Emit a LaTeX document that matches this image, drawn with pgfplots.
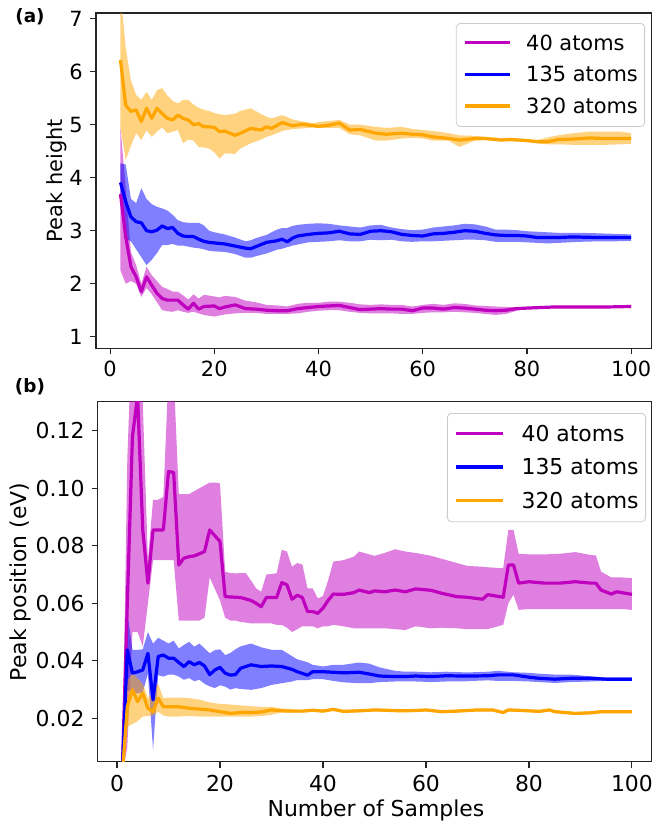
\documentclass[border=0pt]{standalone}
\usepackage{fontspec}
\setmainfont{DejaVu Sans}
\usepackage{pgfplots}
\usepackage{pgfplotstable}
\pgfplotsset{compat=1.18}
\usepgfplotslibrary{fillbetween}

\definecolor{cM}{rgb}{0.75,0,0.75}
\definecolor{cB}{rgb}{0,0,1}
\definecolor{cO}{HTML}{FFA500}

% ---------------- top panel: peak height ----------------
\pgfplotstableread{
x m l u
2 3.69 2.25 4.95
3 2.89 2.00 3.80
4 2.32 2.05 2.60
5 2.13 2.00 2.35
6 1.85 1.75 2.00
7 2.13 1.92 2.32
8 1.97 1.80 2.16
9 1.82 1.65 2.05
10 1.72 1.50 1.94
11 1.69 1.48 1.90
12 1.69 1.47 1.85
13 1.69 1.50 1.85
14 1.60 1.47 1.78
15 1.52 1.45 1.70
16 1.63 1.47 1.80
17 1.52 1.44 1.72
18 1.57 1.41 1.79
20 1.58 1.38 1.76
21 1.53 1.40 1.74
22 1.56 1.42 1.77
24 1.60 1.44 1.75
26 1.53 1.45 1.68
28 1.52 1.45 1.65
30 1.50 1.43 1.60
32 1.49 1.43 1.59
34 1.49 1.43 1.57
36 1.53 1.44 1.62
38 1.55 1.47 1.64
40 1.57 1.49 1.64
42 1.58 1.50 1.66
44 1.59 1.50 1.66
46 1.55 1.47 1.64
48 1.51 1.45 1.61
50 1.52 1.44 1.60
52 1.53 1.44 1.61
54 1.52 1.44 1.60
56 1.52 1.43 1.60
58 1.49 1.43 1.57
60 1.54 1.45 1.60
62 1.54 1.46 1.62
64 1.52 1.46 1.60
66 1.55 1.47 1.63
68 1.54 1.46 1.62
70 1.52 1.45 1.59
72 1.50 1.43 1.58
74 1.49 1.41 1.57
76 1.50 1.43 1.56
78 1.53 1.49 1.56
80 1.54 1.52 1.56
85 1.56 1.54 1.58
90 1.56 1.54 1.58
95 1.56 1.54 1.58
100 1.57 1.55 1.59
}\topM

\pgfplotstableread{
x m l u
2 3.91 3.55 4.27
3 3.55 2.85 4.25
4 3.26 2.80 3.60
5 3.17 2.65 3.52
6 3.15 2.50 3.80
7 3.00 2.35 3.60
8 2.98 2.45 3.50
9 3.01 2.58 3.45
10 3.09 2.73 3.42
11 3.04 2.73 3.38
12 3.06 2.75 3.30
13 2.95 2.72 3.20
14 2.90 2.72 3.16
15 2.89 2.70 3.15
16 2.89 2.68 3.15
17 2.84 2.67 3.15
18 2.80 2.65 3.10
19 2.78 2.62 3.00
20 2.77 2.61 2.97
22 2.75 2.60 2.93
24 2.71 2.56 2.87
26 2.67 2.49 2.80
27 2.66 2.49 2.82
28 2.70 2.52 2.86
30 2.78 2.57 2.92
32 2.81 2.64 3.02
33 2.84 2.66 3.05
34 2.79 2.69 3.05
35 2.86 2.72 3.09
36 2.90 2.74 3.11
38 2.93 2.78 3.13
40 2.95 2.79 3.14
42 2.96 2.80 3.13
44 2.99 2.82 3.10
46 2.94 2.80 3.08
48 2.93 2.80 3.06
50 2.99 2.83 3.10
52 3.00 2.82 3.11
54 2.98 2.83 3.06
56 2.93 2.80 3.03
58 2.91 2.79 3.01
60 2.90 2.80 3.02
62 2.94 2.80 3.06
64 2.95 2.81 3.08
66 2.97 2.82 3.10
68 3.00 2.83 3.13
70 2.99 2.83 3.12
72 2.95 2.82 3.08
74 2.92 2.79 3.02
76 2.91 2.79 3.02
78 2.91 2.79 3.01
80 2.90 2.78 2.99
82 2.87 2.77 2.98
84 2.87 2.76 2.97
86 2.87 2.77 2.96
88 2.88 2.78 2.96
90 2.88 2.79 2.96
94 2.87 2.80 2.95
97 2.87 2.80 2.94
100 2.87 2.81 2.93
}\topB

\pgfplotstableread{
x m l u
2 6.22 4.95 7.50
3 5.37 4.33 6.45
4 5.25 4.60 5.84
5 5.28 4.84 5.56
6 5.06 4.71 5.47
7 5.31 4.90 5.62
8 5.12 4.77 5.47
9 5.31 4.87 5.65
10 5.21 4.95 5.69
11 5.12 4.84 5.55
12 5.09 4.87 5.45
13 5.18 4.90 5.40
14 5.12 4.65 5.47
15 5.09 4.72 5.47
16 5.00 4.70 5.38
17 5.02 4.58 5.32
18 4.96 4.57 5.28
19 4.96 4.55 5.26
20 4.95 4.48 5.22
21 4.87 4.36 5.20
22 4.88 4.46 5.18
24 4.80 4.45 5.21
25 4.84 4.55 5.26
27 4.93 4.65 5.31
29 4.90 4.72 5.20
30 4.96 4.77 5.15
31 4.93 4.80 5.12
33 5.04 4.88 5.18
35 4.98 4.92 5.10
37 5.01 4.93 5.06
39 4.98 4.95 5.03
40 4.97 4.94 5.05
42 4.99 4.94 5.07
44 5.03 4.94 5.09
46 4.90 4.82 5.00
48 4.91 4.80 5.00
51 4.84 4.70 4.96
53 4.82 4.70 4.94
56 4.84 4.74 4.96
58 4.82 4.75 4.92
60 4.81 4.74 4.90
62 4.77 4.70 4.88
65 4.74 4.70 4.84
67 4.71 4.58 4.80
70 4.74 4.70 4.79
72 4.74 4.71 4.77
75 4.71 4.69 4.75
77 4.72 4.69 4.75
80 4.70 4.68 4.73
82 4.68 4.65 4.71
84 4.68 4.63 4.76
86 4.72 4.63 4.80
89 4.73 4.62 4.84
92 4.75 4.62 4.87
95 4.74 4.62 4.87
98 4.74 4.63 4.87
100 4.74 4.64 4.84
}\topO

% ---------------- bottom panel: peak position ----------------
\pgfplotstableread{
x m l u
1 0.000 0.000 0.000
2 0.060 0.010 0.110
3 0.118 0.050 0.160
4 0.132 0.050 0.200
5 0.0855 0.045 0.130
6 0.067 0.060 0.075
7 0.0855 0.075 0.096
8 0.0855 0.075 0.096
9 0.0855 0.075 0.097
10 0.1058 0.075 0.140
11 0.1055 0.075 0.140
12 0.0733 0.054 0.098
13 0.0757 0.054 0.098
14 0.0762 0.054 0.098
15 0.0765 0.054 0.099
16 0.0772 0.054 0.100
17 0.0780 0.055 0.101
18 0.0855 0.069 0.102
19 0.0835 0.065 0.102
20 0.0815 0.061 0.1017
21 0.0623 0.055 0.071
22 0.0622 0.054 0.0705
23 0.0621 0.054 0.0704
24 0.0620 0.0535 0.0705
25 0.0615 0.0533 0.0705
26 0.0610 0.053 0.068
27 0.0600 0.053 0.0652
28 0.0588 0.053 0.064
29 0.0620 0.053 0.070
30 0.0620 0.053 0.0702
31 0.0620 0.0525 0.0704
32 0.0672 0.0525 0.0786
33 0.0664 0.0515 0.078
34 0.0614 0.050 0.0727
35 0.0628 0.051 0.074
36 0.0620 0.052 0.0735
37 0.0571 0.052 0.0652
38 0.0571 0.052 0.0652
39 0.0565 0.0513 0.0617
40 0.0583 0.052 0.0625
41 0.0610 0.052 0.068
42 0.0632 0.0525 0.0745
44 0.0631 0.052 0.075
46 0.0637 0.0513 0.0762
47 0.0646 0.0513 0.078
49 0.0637 0.0513 0.077
50 0.0643 0.0513 0.0765
52 0.0640 0.0513 0.0775
54 0.0646 0.051 0.0788
56 0.0640 0.0507 0.078
58 0.0650 0.052 0.0775
61 0.0645 0.0513 0.0765
63 0.0635 0.0515 0.0755
66 0.0623 0.0513 0.074
68 0.0621 0.051 0.073
71 0.0614 0.051 0.0727
72 0.0630 0.051 0.0725
75 0.0621 0.0525 0.0722
76 0.0733 0.060 0.0855
77 0.0733 0.063 0.0855
78 0.0670 0.0577 0.0772
80 0.0675 0.058 0.077
83 0.0670 0.058 0.077
86 0.0670 0.058 0.0772
89 0.0675 0.058 0.0778
92 0.0670 0.058 0.0768
93 0.0670 0.058 0.0766
94 0.0646 0.058 0.071
96 0.0632 0.058 0.069
97 0.0640 0.058 0.069
98 0.0637 0.058 0.069
100 0.0631 0.0577 0.0687
}\botM

\pgfplotstableread{
x m l u
1 0.000 0.000 0.000
2 0.0438 0.030 0.057
3 0.0357 0.0287 0.0438
4 0.0362 0.0287 0.0438
5 0.0368 0.0290 0.0440
6 0.0426 0.0355 0.050
7 0.0264 0.009 0.046
8 0.0415 0.0350 0.048
9 0.0420 0.0345 0.047
10 0.0409 0.0352 0.046
11 0.0409 0.0352 0.047
12 0.0394 0.0345 0.0443
13 0.0380 0.0334 0.0455
14 0.0397 0.034 0.0466
15 0.0386 0.0329 0.0449
16 0.0394 0.0334 0.046
17 0.0382 0.032 0.0443
18 0.0352 0.0311 0.0426
19 0.0368 0.0305 0.0437
20 0.0377 0.0315 0.044
21 0.0357 0.031 0.042
22 0.0350 0.030 0.0427
23 0.0352 0.0305 0.044
24 0.0374 0.0302 0.045
26 0.0386 0.0299 0.046
28 0.0380 0.0305 0.0447
30 0.0382 0.0316 0.0438
32 0.0380 0.0322 0.0438
34 0.0370 0.0328 0.0416
35 0.0362 0.0333 0.0405
37 0.0350 0.0333 0.0395
38 0.0362 0.0336 0.0386
40 0.0362 0.0336 0.038
42 0.0360 0.033 0.0386
44 0.0358 0.0325 0.0386
47 0.0360 0.0322 0.0394
49 0.0354 0.0322 0.039
51 0.0347 0.0326 0.0377
54 0.0345 0.0328 0.0365
56 0.0345 0.0328 0.0362
58 0.0347 0.0328 0.0362
61 0.0345 0.0326 0.036
64 0.0348 0.0328 0.0362
67 0.0347 0.0328 0.036
69 0.0347 0.0330 0.036
72 0.0348 0.0332 0.0362
74 0.0351 0.033 0.0365
77 0.0351 0.033 0.036
80 0.0343 0.0328 0.0358
82 0.0339 0.0326 0.0355
85 0.0336 0.0323 0.0352
88 0.0339 0.0326 0.0352
92 0.0339 0.0328 0.0346
95 0.0336 0.033 0.0342
98 0.0336 0.0331 0.0342
100 0.0336 0.0331 0.0342
}\botB

\pgfplotstableread{
x m l u
1 0.000 0.000 0.000
2 0.0240 0.017 0.033
3 0.0299 0.018 0.0357
4 0.0258 0.019 0.034
5 0.0287 0.0206 0.032
6 0.0235 0.0208 0.027
7 0.0223 0.021 0.029
8 0.0270 0.0223 0.032
9 0.0240 0.021 0.027
10 0.0240 0.0206 0.0272
12 0.0240 0.0206 0.0272
14 0.0235 0.0208 0.0270
16 0.0232 0.0206 0.0265
18 0.0229 0.0206 0.0255
20 0.0223 0.0206 0.025
22 0.0217 0.0206 0.0248
24 0.0220 0.0206 0.0245
26 0.0220 0.0206 0.0242
28 0.0222 0.0208 0.024
30 0.0229 0.0212 0.024
32 0.0226 0.022 0.0234
34 0.0225 0.022 0.0232
36 0.0225 0.022 0.023
38 0.0228 0.0223 0.0233
40 0.0225 0.022 0.023
42 0.0231 0.0226 0.0236
44 0.0224 0.0219 0.0229
47 0.0226 0.0221 0.0231
50 0.0229 0.0224 0.0234
52 0.0228 0.0223 0.0233
55 0.0226 0.0221 0.0231
58 0.0227 0.0222 0.0232
60 0.0229 0.0224 0.0234
63 0.0223 0.0218 0.0228
66 0.0225 0.022 0.023
70 0.0229 0.0224 0.0234
73 0.0229 0.0224 0.0234
75 0.0220 0.0215 0.0225
76 0.0229 0.0224 0.0234
79 0.0227 0.0222 0.0232
82 0.0224 0.0219 0.0229
84 0.0229 0.0224 0.0234
85 0.0223 0.0218 0.0228
89 0.0217 0.0212 0.0222
92 0.0219 0.0214 0.0224
94 0.0223 0.0218 0.0228
100 0.0223 0.0218 0.0228
}\botO

\pgfplotsset{
  mystyle/.style={
    scale only axis,
    anchor=north west,
    axis line style={black!85, line width=1.1bp},
    every tick/.append style={black!85, line width=1.1bp},
    tick align=outside,
    major tick length=6bp,
    xtick pos=bottom, ytick pos=left,
    xtick={0,20,...,100},
    /pgf/number format/assume math mode=true,
    xticklabel style={anchor=north, inner sep=0pt},
    yticklabel style={anchor=east, inner sep=0pt},
    scaled ticks=false,
    legend cell align=left,
  },
  band/.style={draw=none, fill=#1, fill opacity=0.5, forget plot},
  meanline/.style={#1, line width=3.2bp, line join=round},
}

\begin{document}
\begin{tikzpicture}

% ---------- (a) ----------
\begin{axis}[mystyle,
  at={(96bp,-13bp)}, width=555.5bp, height=335.3bp,
  xmin=-2.7, xmax=103.9, ymin=0.781, ymax=7.108,
  ytick={1,2,...,7},
  tick label style={font=\fontsize{21}{21}\selectfont},
  xticklabel shift=6bp, yticklabel shift=7bp,
  legend style={at={(1,1)}, xshift=-6.5bp, yshift=-10bp, anchor=north east,
    draw=black!20, line width=0.8bp, rounded corners=4bp, fill=white, fill opacity=0.8, text opacity=1,
    inner xsep=6.7bp, inner ysep=11.3bp, row sep=14.7bp, column sep=0pt,
    nodes={inner sep=0pt, anchor=base west},
    font=\fontsize{21}{21}\selectfont},
  legend image code/.code={\draw[#1, line width=3.2bp] (0bp,7.7bp) -- (45bp,7.7bp); \path (60bp,7.7bp);},
]
\addplot[name path=aMu, draw=none, forget plot] table[x=x,y=u]{\topM};
\addplot[name path=aMl, draw=none, forget plot] table[x=x,y=l]{\topM};
\addplot[band=cM] fill between[of=aMu and aMl];
\addplot[meanline=cM] table[x=x,y=m]{\topM};
\addlegendentry{40 atoms}
\addplot[name path=aBu, draw=none, forget plot] table[x=x,y=u]{\topB};
\addplot[name path=aBl, draw=none, forget plot] table[x=x,y=l]{\topB};
\addplot[band=cB] fill between[of=aBu and aBl];
\addplot[meanline=cB] table[x=x,y=m]{\topB};
\addlegendentry{135 atoms}
\addplot[name path=aOu, draw=none, forget plot] table[x=x,y=u]{\topO};
\addplot[name path=aOl, draw=none, forget plot] table[x=x,y=l]{\topO};
\addplot[band=cO] fill between[of=aOu and aOl];
\addplot[meanline=cO] table[x=x,y=m]{\topO};
\addlegendentry{320 atoms}
\end{axis}

% ---------- (b) ----------
\begin{axis}[mystyle,
  at={(97.7bp,-401.7bp)}, width=553.8bp, height=360bp,
  xmin=-3.75, xmax=103.8, ymin=0.0049, ymax=0.1301,
  ytick={0.02,0.04,0.06,0.08,0.10,0.12},
  yticklabel style={/pgf/number format/.cd, fixed, fixed zerofill, precision=2},
  tick label style={font=\fontsize{22}{22}\selectfont},
  xticklabel shift=7bp, yticklabel shift=7bp,
  legend style={at={(1,1)}, xshift=-5.5bp, yshift=-11.3bp, anchor=north east,
    draw=black!20, line width=0.8bp, rounded corners=4bp, fill=white, fill opacity=0.8, text opacity=1,
    inner xsep=7bp, inner ysep=11.5bp, row sep=16bp, column sep=0pt,
    nodes={inner sep=0pt, anchor=base west},
    font=\fontsize{22}{22}\selectfont},
  legend image code/.code={\draw[#1, line width=3.2bp] (0bp,8bp) -- (47bp,8bp); \path (64bp,8bp);},
]
\addplot[name path=bMu, draw=none, forget plot] table[x=x,y=u]{\botM};
\addplot[name path=bMl, draw=none, forget plot] table[x=x,y=l]{\botM};
\addplot[band=cM] fill between[of=bMu and bMl];
\addplot[meanline=cM] table[x=x,y=m]{\botM};
\addlegendentry{40 atoms}
\addplot[name path=bBu, draw=none, forget plot] table[x=x,y=u]{\botB};
\addplot[name path=bBl, draw=none, forget plot] table[x=x,y=l]{\botB};
\addplot[band=cB] fill between[of=bBu and bBl];
\addplot[meanline=cB] table[x=x,y=m]{\botB};
\addlegendentry{135 atoms}
\addplot[name path=bOu, draw=none, forget plot] table[x=x,y=u]{\botO};
\addplot[name path=bOl, draw=none, forget plot] table[x=x,y=l]{\botO};
\addplot[band=cO] fill between[of=bOu and bOl];
\addplot[meanline=cO] table[x=x,y=m]{\botO};
\addlegendentry{320 atoms}
\end{axis}

% ---------- labels ----------
\node[anchor=base, font=\fontsize{18.5}{18.5}\selectfont\bfseries] at (30bp,-22.6bp) {(a)};
\node[anchor=base, font=\fontsize{18.5}{18.5}\selectfont\bfseries] at (30bp,-392.6bp) {(b)};
\node[anchor=base, rotate=90, font=\fontsize{21}{21}\selectfont] at (62bp,-180.5bp) {Peak height};
\node[anchor=base, rotate=90, font=\fontsize{22}{22}\selectfont] at (26.7bp,-582bp) {Peak position (eV)};
\node[anchor=base, font=\fontsize{22}{22}\selectfont] at (376bp,-816.5bp) {Number of Samples};
\pgfresetboundingbox
\path[use as bounding box] (0bp,0bp) rectangle (652bp,-825bp);
\end{tikzpicture}
\end{document}
